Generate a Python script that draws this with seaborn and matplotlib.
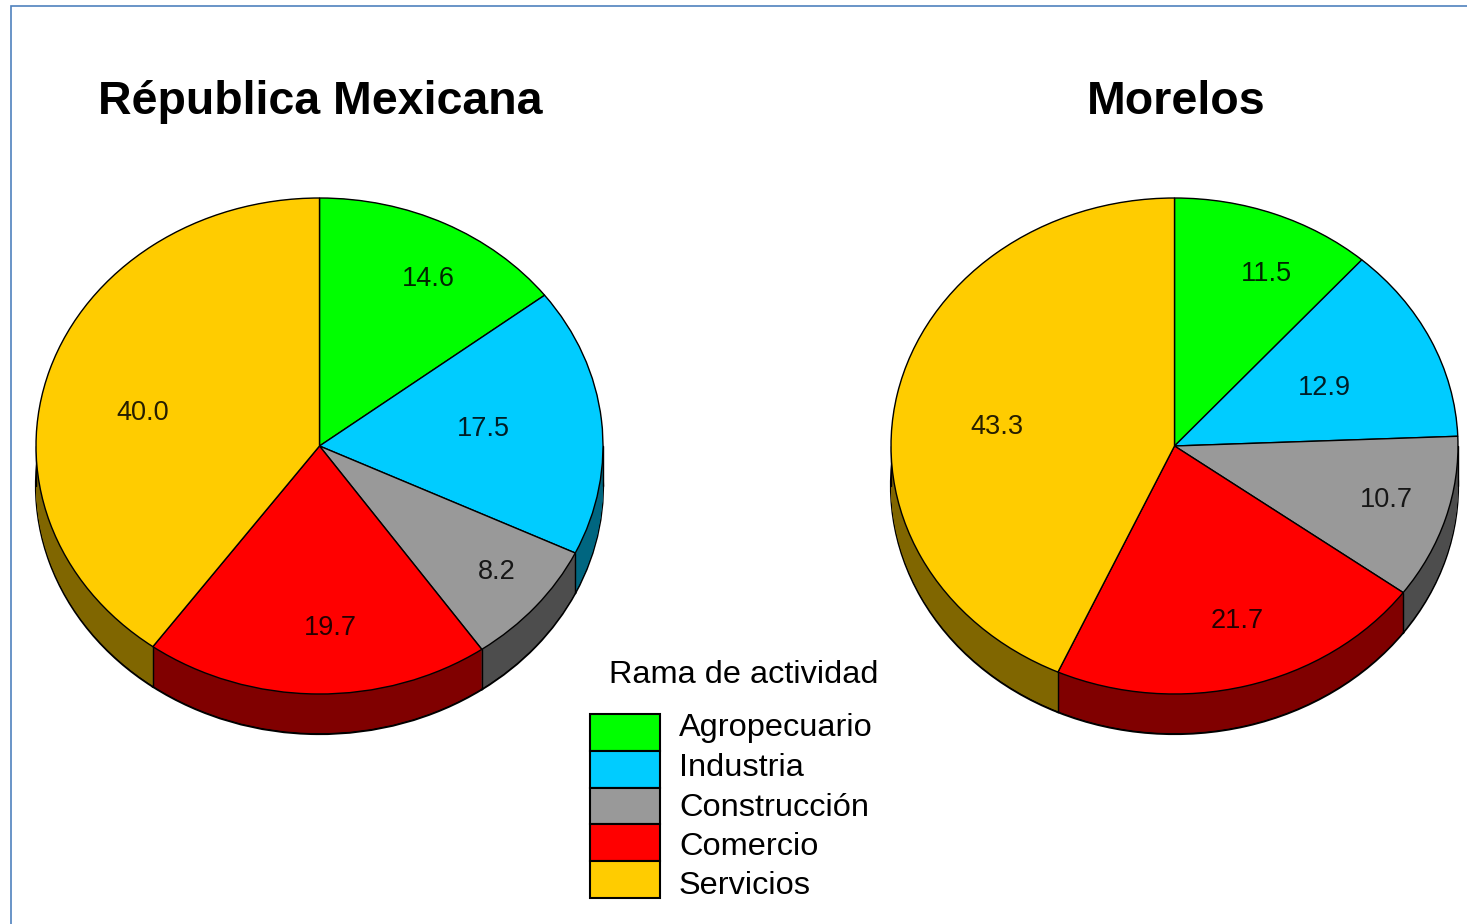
import numpy as np
import matplotlib
matplotlib.use("Agg")
import matplotlib.pyplot as plt
from matplotlib.patches import Patch, Rectangle
import seaborn as sns

categories = ["Agropecuario", "Industria", "Construcción", "Comercio", "Servicios"]
mexico_values = [14.6, 17.5, 8.2, 19.7, 40.0]
morelos_values = [11.5, 12.9, 10.7, 21.7, 43.3]
titles = ["Républica Mexicana", "Morelos"]
legend_title = "Rama de actividad"
colors = ["#00ff00", "#00ccff", "#999999", "#ff0000", "#ffcc00"]

# label placement (pixels in the figure)
mexico_label_px = [(428, 279), (483, 429), (497, 572), (330, 628), (143, 413)]
morelos_label_px = [(1266, 274), (1324, 388), (1386, 500), (1237, 621), (997, 427)]

W, H = 1467, 924
RX, RY, DEPTH = 283.5, 248, 40
sns.set_theme(style="white")
plt.rcParams["font.family"] = ["Liberation Sans", "DejaVu Sans"]
palette = sns.color_palette(colors)
dark = [tuple(c * 0.5 for c in col) for col in palette]

fig = plt.figure(figsize=(W / 100, H / 100), dpi=100, facecolor="white")


def draw_pie(cx, cy, values, title, label_px, title_x):
    margin = 1.3
    ax = fig.add_axes([(cx - RX * margin) / W, 1 - (cy + RY * margin) / H,
                       2 * RX * margin / W, 2 * RY * margin / H])
    d = DEPTH / RY
    kw = dict(colors=dark, startangle=90, counterclock=False, radius=1)
    # side wall: stacked darker discs, the lowest one outlined
    ax.pie(values, center=(0, -d), wedgeprops=dict(edgecolor="black", linewidth=1.6), **kw)
    for off in np.linspace(d - 0.004, 0, 60):
        ax.pie(values, center=(0, -off), wedgeprops=dict(edgecolor="none", linewidth=0), **kw)
    # wall edges at the front-facing wedge boundaries and the silhouette
    fracs = np.cumsum(values) / np.sum(values)
    for f in fracs:
        a = 2 * np.pi * f
        if np.cos(a) < 0:
            ax.plot([np.sin(a)] * 2, [np.cos(a), np.cos(a) - d], color="black", lw=1.0, zorder=2)
    for s in (-1, 1):
        ax.plot([s, s], [0, -d], color="black", lw=1.0, zorder=2)
    wedges, _ = ax.pie(values, colors=palette, startangle=90, counterclock=False, radius=1,
                       wedgeprops=dict(edgecolor="black", linewidth=1.0))
    for w in wedges:
        w.set_zorder(3)
    ax.set_aspect("auto")
    ax.set_xlim(-margin, margin)
    ax.set_ylim(-margin, margin)
    ax.axis("off")
    for v, (px, py) in zip(values, label_px):
        fig.text(px / W, 1 - py / H, f"{v:.1f}", ha="center", va="center",
                 fontsize=19.5, color="black", alpha=0.85, zorder=5)
    fig.text(title_x / W, 1 - 102 / H, title, ha="center", va="center",
             fontsize=33.5, fontweight="bold", color="black")
    return ax


draw_pie(319.5, 446, mexico_values, titles[0], mexico_label_px, 320)
draw_pie(1174.5, 446, morelos_values, titles[1], morelos_label_px, 1176)

handles = [Patch(facecolor=c, edgecolor="black", linewidth=1.5) for c in palette]
fs = 23.4
px_per_fs = fs * 100 / 72
leg = fig.legend(handles, categories, title=legend_title, title_fontsize=fs, fontsize=fs,
                 loc="lower left", bbox_to_anchor=(590 / W, 1 - 898 / H), frameon=False,
                 borderpad=0, borderaxespad=0, handlelength=70 / px_per_fs,
                 handleheight=1.365, handletextpad=19 / px_per_fs,
                 labelspacing=0, labelcolor="black")
leg._legend_box.align = "right"
leg.get_title().set_color("black")
leg.get_title().set_position((6, 24))
# labels run on a slightly wider pitch than the colour boxes
for t, dy in zip(leg.get_texts(), [7, 4, 1, -1, -4]):
    t.set_position((0, dy))

# thin blue frame of the original picture
fig.add_artist(Rectangle((11 / W, -0.1), 1.2, 1.1 - 6 / H, transform=fig.transFigure,
                         facecolor="none", edgecolor="#4f81bd", linewidth=1.2))

fig.savefig("out.png", dpi=100)
